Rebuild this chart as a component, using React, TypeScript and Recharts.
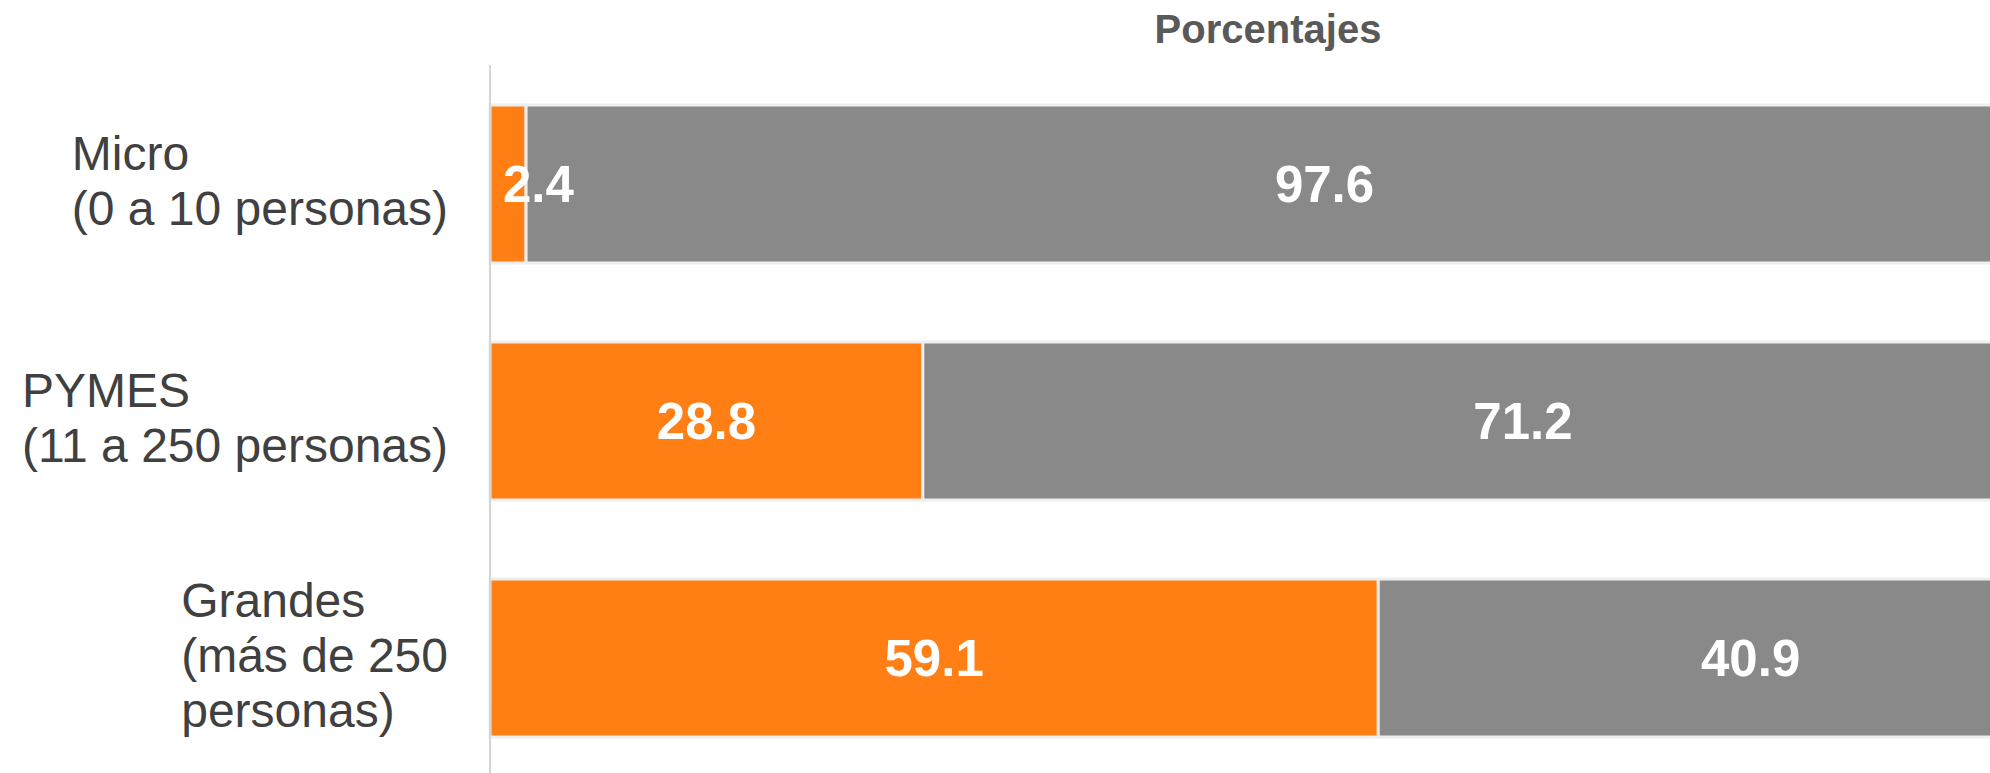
import React from 'react';
import { BarChart, Bar, XAxis, YAxis, LabelList } from 'recharts';

// ---- data ----
const categories = ['Micro', 'PYMES', 'Grandes'];
const categoryLines = [
  ['Micro', '(0 a 10 personas)'],
  ['PYMES', '(11 a 250 personas)'],
  ['Grandes', '(más de 250', 'personas)'],
];
const seriesYes = [2.4, 28.8, 59.1];
const seriesNo = [97.6, 71.2, 40.9];
const seriesNames = ['Sí', 'No'];
const chartTitle = 'Porcentajes';

const data = categories.map((c, i) => ({ name: c, yes: seriesYes[i], no: seriesNo[i] }));

const FONT = '"Liberation Sans", Arial, Helvetica, sans-serif';
const ORANGE = '#FF7F15';
const GRAY = '#898989';

let ctx: CanvasRenderingContext2D | null = null;
function measure(text: string, font: string): number {
  if (!ctx) ctx = document.createElement('canvas').getContext('2d');
  if (!ctx) return text.length * 25;
  ctx.font = font;
  return ctx.measureText(text).width;
}

const CategoryTick = (props: any) => {
  const { x, y, payload } = props;
  const idx = categories.indexOf(payload.value);
  const lines = idx >= 0 ? categoryLines[idx] : [String(payload.value)];
  const font = `48px ${FONT}`;
  const maxW = Math.max(...lines.map((l) => measure(l, font)));
  const rightEdge = x - 34;
  const left = rightEdge - maxW;
  const lh = 55;
  const cap = 34;
  const first = y - 3 - ((lines.length - 1) * lh + cap) / 2 + cap;
  return (
    <g>
      {lines.map((l, i) => (
        <text key={i} x={left} y={first + i * lh} fill="#404040" fontSize={48} fontFamily={FONT} textAnchor="start">
          {l}
        </text>
      ))}
    </g>
  );
};

const makeLabel = (kind: 'yes' | 'no') => (props: any) => {
  const { x, y, width, height, value } = props;
  const txt = Number(value).toFixed(1);
  const fs = 51;
  const tw = measure(txt, `bold ${fs}px ${FONT}`);
  const cy = y + height / 2 + fs * 0.716 / 2;
  let tx: number;
  let anchor: 'start' | 'middle' = 'middle';
  if (kind === 'yes') {
    if (tw + 20 > width) {
      tx = x + 13;
      anchor = 'start';
    } else {
      tx = x + width / 2;
    }
  } else {
    tx = x + width / 2 + 65;
  }
  return (
    <text x={tx} y={cy} fill="#ffffff" fontSize={fs} fontWeight="bold" fontFamily={FONT} textAnchor={anchor}>
      {txt}
    </text>
  );
};

export default function App() {
  return (
    <div style={{ position: 'fixed', left: 0, top: 0, width: 1995, height: 780, background: '#fff' }}>
      <svg width={1990} height={70} style={{ position: 'absolute', left: 0, top: 0 }}>
        <text x={1268} y={43} textAnchor="middle" fill="#595959" fontSize={40} fontWeight="bold" fontFamily={FONT}>
          {chartTitle}
        </text>
      </svg>
      <div style={{ position: 'absolute', left: 0, top: 0 }}>
        <BarChart
          width={1995}
          height={780}
          data={data}
          layout="vertical"
          margin={{ top: 65, right: 2, bottom: 4, left: 0 }}
        >
          <XAxis type="number" domain={[0, 100]} hide />
          <YAxis
            type="category"
            dataKey="name"
            width={490}
            axisLine={{ stroke: '#d4d4d4', strokeWidth: 2 }}
            tickLine={false}
            tick={<CategoryTick />}
            interval={0}
          />
          <Bar dataKey="yes" name={seriesNames[0]} stackId="a" fill={ORANGE} stroke="#eeeeee" strokeWidth={3} barSize={158} isAnimationActive={false}>
            <LabelList dataKey="yes" content={makeLabel('yes')} />
          </Bar>
          <Bar dataKey="no" name={seriesNames[1]} stackId="a" fill={GRAY} stroke="#eeeeee" strokeWidth={3} barSize={158} isAnimationActive={false}>
            <LabelList dataKey="no" content={makeLabel('no')} />
          </Bar>
        </BarChart>
      </div>
    </div>
  );
}
